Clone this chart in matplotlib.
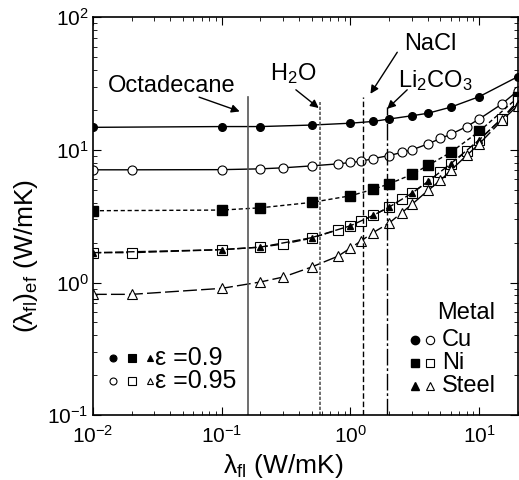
import matplotlib
matplotlib.use("Agg")
import matplotlib.pyplot as plt
import numpy as np

plt.rcParams['font.family'] = ['Liberation Sans', 'DejaVu Sans']
plt.rcParams['mathtext.fontset'] = 'custom'
plt.rcParams['mathtext.rm'] = 'Liberation Sans'
plt.rcParams['mathtext.it'] = 'Liberation Sans'

# x grids (fluid conductivity, W/mK)
x_a = [0.01, 0.1, 0.2, 0.5, 1.0, 1.5, 2.0, 3.0, 4.0, 6.0, 10.0, 20.0]
x_b = [0.01, 0.02, 0.1, 0.2, 0.3, 0.5, 0.8, 1.0, 1.2, 1.5, 2.0, 2.5, 3.0,
       4.0, 5.0, 6.0, 8.0, 10.0, 15.0, 20.0]

# effective conductivity, eps = 0.9 (filled) on x_a
cu_09 = [14.8, 15.0, 15.0, 15.4, 15.9, 16.4, 17.1, 18.1, 18.9, 21.0, 25.2, 35.7]
ni_09 = [3.48, 3.52, 3.66, 4.02, 4.51, 5.04, 5.55, 6.53, 7.64, 9.57, 13.8, 24.9]
st_09 = [1.68, 1.77, 1.85, 2.18, 2.68, 3.21, 3.71, 4.72, 5.78, 7.86, 11.9, 22.5]

# eps = 0.95 (open) on x_b
cu_095 = [7.08, 7.08, 7.1, 7.2, 7.33, 7.58, 7.85, 8.04, 8.2, 8.6, 9.07, 9.57,
          10.0, 11.1, 12.2, 13.1, 15.0, 17.1, 22.2, 28.0]
ni_095 = [1.68, 1.68, 1.77, 1.85, 1.95, 2.16, 2.50, 2.67, 2.89, 3.21, 3.71,
          4.23, 4.72, 5.78, 6.80, 7.86, 9.79, 11.9, 17.2, 23.5]
st_095 = [0.815, 0.815, 0.904, 1.01, 1.10, 1.31, 1.58, 1.82, 2.05, 2.38, 2.81,
          3.36, 3.88, 4.95, 5.89, 7.0, 9.1, 11.1, 16.7, 21.6]

# reference materials
materials = ['Octadecane', 'H$_2$O', 'NaCl', 'Li$_2$CO$_3$']
mat_k = [0.159, 0.585, 1.255, 1.93]
mat_top = [25.0, 22.9, 25.2, 21.2]

fig = plt.figure(figsize=(5.19, 4.80), dpi=100)
ax = fig.add_axes([0.179, 0.135, 0.819, 0.829])

ax.plot(x_a, cu_09, '-', color='black', lw=1, marker='o', ms=5.5,
        mfc='black', mec='black')
ax.plot(x_b, cu_095, '-', color='black', lw=1, marker='o', ms=6.5,
        mfc='white', mec='black', mew=0.8)
ax.plot(x_a, ni_09, color='black', lw=1, ls=(0, (3, 2)), marker='s', ms=7,
        mfc='black', mec='black')
ax.plot(x_b, ni_095, color='black', lw=1, ls=(0, (6, 2)), marker='s', ms=6.5,
        mfc='white', mec='black', mew=0.8)
ax.plot(x_a, st_09, color='black', lw=1, ls=(0, (6, 2)), marker='^', ms=5,
        mfc='black', mec='black')
ax.plot(x_b, st_095, color='black', lw=1, ls=(0, (10, 3)), marker='^', ms=6.5,
        mfc='white', mec='black', mew=0.8)

# vertical material lines
styles = [dict(color='#555555', ls='-', lw=1.2),
          dict(color='#555555', ls=(0, (2, 1)), lw=1.2),
          dict(color='black', ls=(0, (4, 2)), lw=1),
          dict(color='black', ls=(0, (12, 2, 2, 2)), lw=1)]
for k, top, st in zip(mat_k, mat_top, styles):
    ax.plot([k, k], [0.1, top], **st)

arrow = dict(arrowstyle='-|>', color='black', lw=1, mutation_scale=12,
             shrinkA=0, shrinkB=0)
fs = 17
ax.annotate('', xy=(0.138, 19.5), xytext=(0.0668, 25), arrowprops=arrow)
ax.text(0.041, 30.5, materials[0], fontsize=fs, ha='center', va='center')
ax.annotate('', xy=(0.567, 20.7), xytext=(0.377, 28.4), arrowprops=arrow)
ax.text(0.362, 37.4, materials[1], fontsize=fs, ha='center', va='center')
ax.annotate('', xy=(1.43, 26.5), xytext=(2.31, 54.5), arrowprops=arrow)
ax.text(4.2, 63, materials[2], fontsize=fs, ha='center', va='center')
ax.annotate('', xy=(1.93, 20.4), xytext=(2.76, 28.4), arrowprops=arrow)
ax.text(4.58, 33.3, materials[3], fontsize=fs, ha='center', va='center')

# emissivity key
tr = ax.transAxes
for y, fill, lab in [(0.143, 'black', 'ε =0.9'),
                     (0.085, 'white', 'ε =0.95')]:
    ax.plot([0.047], [y], 'o', ms=5, mfc=fill, mec='black', mew=0.8, transform=tr)
    ax.plot([0.092], [y], 's', ms=6, mfc=fill, mec='black', mew=0.8, transform=tr)
    ax.plot([0.134], [y], '^', ms=5, mfc=fill, mec='black', mew=0.8, transform=tr)
    ax.text(0.146, y, lab, fontsize=fs + 1, transform=tr, va='center', ha='left')

# metal key
ax.text(0.877, 0.256, 'Metal', fontsize=fs, transform=tr, ha='center', va='center')
for y, mk, lab in [(0.188, 'o', 'Cu'), (0.131, 's', 'Ni'), (0.073, '^', 'Steel')]:
    ax.plot([0.758], [y], mk, ms=6, mfc='black', mec='black', transform=tr)
    ax.plot([0.793], [y], mk, ms=6, mfc='white', mec='black', mew=0.8, transform=tr)
    ax.text(0.821, y, lab, fontsize=fs, transform=tr, ha='left', va='center')

ax.set_xscale('log')
ax.set_yscale('log')
ax.set_xlim(0.01, 20)
ax.set_ylim(0.1, 100)
ax.tick_params(which='both', direction='in', top=True, right=True, labelsize=15)
ax.tick_params(which='major', length=6)
ax.tick_params(which='minor', length=3)
ax.tick_params(axis='x', pad=7)
ax.tick_params(axis='y', pad=3)
for s in ax.spines.values():
    s.set_linewidth(1.2)
ax.set_xlabel('$\\lambda_{\\rm fl}$ (W/mK)', fontsize=19)
ax.set_ylabel('$(\\lambda_{\\rm fl})_{\\rm ef}$ (W/mK)', fontsize=19)
ax.xaxis.set_label_coords(0.447, -0.092)
ax.yaxis.set_label_coords(-0.125, 0.40)

fig.savefig('out.png', dpi=100)
